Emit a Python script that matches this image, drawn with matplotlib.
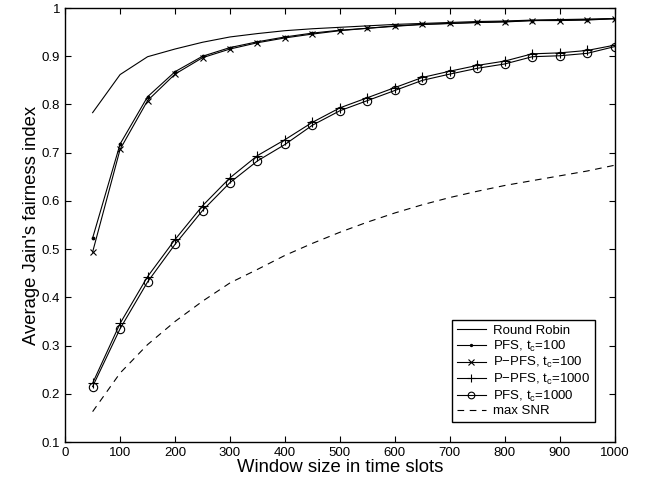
import matplotlib
matplotlib.use('Agg')
import matplotlib.pyplot as plt
import numpy as np

plt.rcParams['font.family'] = ['Liberation Sans', 'DejaVu Sans']
plt.rcParams['mathtext.fontset'] = 'custom'
plt.rcParams['mathtext.rm'] = 'Liberation Sans'
plt.rcParams['mathtext.it'] = 'Liberation Sans'

window = np.arange(50, 1001, 50)

round_robin = [0.783, 0.862, 0.899, 0.915, 0.929, 0.940, 0.947, 0.953, 0.957, 0.960,
               0.963, 0.966, 0.968, 0.970, 0.972, 0.973, 0.975, 0.976, 0.977, 0.978]
pfs_100 = [0.523, 0.718, 0.816, 0.868, 0.900, 0.918, 0.930, 0.940, 0.948, 0.954,
           0.958, 0.963, 0.966, 0.968, 0.970, 0.972, 0.974, 0.975, 0.976, 0.978]
ppfs_100 = [0.494, 0.707, 0.808, 0.863, 0.897, 0.915, 0.928, 0.938, 0.946, 0.953,
            0.958, 0.962, 0.966, 0.968, 0.970, 0.971, 0.974, 0.974, 0.975, 0.978]
ppfs_1000 = [0.222, 0.346, 0.443, 0.520, 0.590, 0.648, 0.694, 0.727, 0.763, 0.793,
             0.814, 0.835, 0.856, 0.869, 0.881, 0.890, 0.905, 0.907, 0.912, 0.923]
pfs_1000 = [0.215, 0.335, 0.432, 0.510, 0.580, 0.638, 0.683, 0.717, 0.757, 0.787,
            0.808, 0.829, 0.850, 0.863, 0.875, 0.884, 0.899, 0.901, 0.906, 0.920]
max_snr = [0.163, 0.243, 0.302, 0.350, 0.392, 0.430, 0.458, 0.487, 0.512, 0.535,
           0.556, 0.575, 0.592, 0.607, 0.620, 0.632, 0.642, 0.652, 0.662, 0.674]

fig = plt.figure(figsize=(6.45, 4.86), dpi=100)
ax = fig.add_axes([0.101, 0.0905, 0.852, 0.893])

lw = 0.8
ax.plot(window, round_robin, 'k-', lw=lw, label='Round Robin')
ax.plot(window, pfs_100, 'k-', marker='.', ms=3.5, lw=lw, label='PFS, t$_c$=100')
ax.plot(window, ppfs_100, 'k-', marker='x', ms=5, mew=0.8, lw=lw, label='P\u2212PFS, t$_c$=100')
ax.plot(window, ppfs_1000, 'k-', marker='+', ms=6.5, mew=0.8, lw=lw, label='P\u2212PFS, t$_c$=1000')
ax.plot(window, pfs_1000, 'k-', marker='o', ms=6, mfc='none', mew=0.8, lw=lw, label='PFS, t$_c$=1000')
ax.plot(window, max_snr, 'k--', lw=lw, dashes=(6, 5), label='max SNR')

ax.set_xlim(0, 1000)
ax.set_ylim(0.1, 1)
ax.set_xticks(np.arange(0, 1001, 100))
ax.set_yticks(np.arange(0.1, 1.01, 0.1))
ax.set_yticklabels(['0.1', '0.2', '0.3', '0.4', '0.5', '0.6', '0.7', '0.8', '0.9', '1'])
ax.tick_params(direction='in', top=True, right=True, labelsize=9.5, length=4, width=0.8)
for s in ax.spines.values():
    s.set_linewidth(1)

ax.set_xlabel('Window size in time slots', fontsize=13.3, labelpad=0)
ax.set_ylabel("Average Jain's fairness index", fontsize=13.3, labelpad=1)

leg = ax.legend(loc='lower right', bbox_to_anchor=(0.964, 0.046), borderaxespad=0,
                fontsize=9.5, frameon=True, fancybox=False, edgecolor='k', framealpha=1,
                handlelength=2.2, labelspacing=0.12, borderpad=0.35, handletextpad=0.55,
                markerscale=0.8)
leg.get_frame().set_linewidth(1)

plt.savefig('out.png', dpi=100)
